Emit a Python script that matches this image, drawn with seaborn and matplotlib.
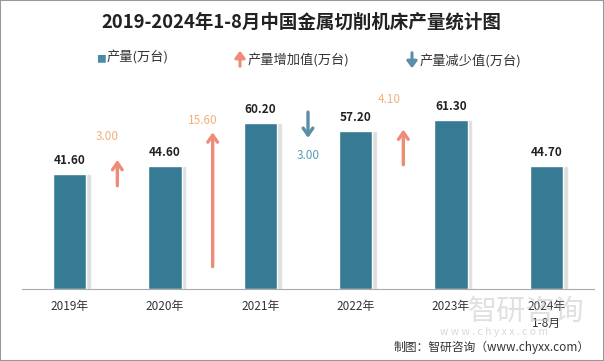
import matplotlib
matplotlib.use('Agg')
import matplotlib.pyplot as plt
import seaborn as sns
import pandas as pd
from matplotlib.patches import Rectangle, FancyArrowPatch

# 数据
years = ['2019年', '2020年', '2021年', '2022年', '2023年', '2024年\n1-8月']
output = [41.6, 44.6, 60.2, 57.2, 61.3, 44.7]
# 增减值（位于相邻年份之间）
deltas = [3.0, 15.6, -3.0, 4.1]
delta_pos = [0.5, 1.5, 2.5, 3.5]
arrow_base = [37.4, 8.1, 64.1, 45.0]
ARROW_SCALE = 3.12

BAR_COLOR = '#367a93'
UP_COLOR = '#ee8c78'
DOWN_COLOR = '#5b8fa8'
UP_TEXT = '#f4b07c'
DOWN_TEXT = '#5a9cb8'

sns.set_style('white')
plt.rcParams['font.family'] = ['Noto Sans CJK SC', 'DejaVu Sans']

df = pd.DataFrame({'year': years, 'output': output})

fig = plt.figure(figsize=(6.04, 3.61), dpi=100)
ax = fig.add_axes([22 / 604, 1 - 289 / 361, 572 / 604, 220.8 / 361])

# 柱子阴影
ax.bar([i + 0.05 for i in range(len(years))], output, width=0.35,
       color='#c8c8c8', alpha=0.6, zorder=1)
sns.barplot(data=df, x='year', y='output', color=BAR_COLOR, saturation=1,
            width=0.35, edgecolor='white', linewidth=1, ax=ax, zorder=2)

for i, v in enumerate(output):
    ax.annotate(f'{v:.2f}', (i, v), xytext=(0, 5), textcoords='offset points',
                ha='center', va='bottom', fontsize=8.5, fontweight='bold',
                color='#222222')

# 增减箭头
label_off = [(-7, 12), (-7, 4), (0, -8), (-10, 17)]
for x, d, b, off in zip(delta_pos, deltas, arrow_base, label_off):
    end = b + d * ARROW_SCALE
    c = UP_COLOR if d > 0 else DOWN_COLOR
    ax.annotate('', xy=(x, end), xytext=(x, b),
                arrowprops=dict(arrowstyle='->,head_length=0.5,head_width=0.35',
                                color=c, lw=2.4, shrinkA=0, shrinkB=0))
    ax.annotate(f'{abs(d):.2f}', (x, end), xytext=off, textcoords='offset points',
                ha='center', va='bottom' if d > 0 else 'top', fontsize=8.5,
                color=UP_TEXT if d > 0 else DOWN_TEXT)

ax.set_xlim(-0.5, 5.5)
ax.set_ylim(0, 80)
ax.set_xlabel('')
ax.set_ylabel('')
ax.set_yticks([])
for s in ['left', 'right', 'top']:
    ax.spines[s].set_visible(False)
ax.spines['bottom'].set_color('#aaaaaa')
ax.set_xticks([i - 0.5 for i in range(7)], minor=True)
ax.tick_params(axis='x', which='minor', length=5, color='#aaaaaa', width=0.8)
ax.tick_params(axis='x', which='major', length=0, labelsize=8.5,
               labelcolor='#333333', pad=8)
for t in ax.get_xticklabels():
    t.set_linespacing(1.35)

# 标题
fig.text(301 / 604, 1 - 22 / 361, '2019-2024年1-8月中国金属切削机床产量统计图',
         ha='center', va='center', fontsize=13.3, fontweight='bold',
         color='#222222')

# 图例
fig.text(96 / 604, 1 - 59 / 361, '■', ha='left', va='center', fontsize=7,
         color='#4a8ca6')
fig.text(107 / 604, 1 - 58 / 361, '产量(万台)', ha='left', va='center',
         fontsize=9.5, color='#333333')
fig.patches.append(FancyArrowPatch(
    (240 / 604, 1 - 69 / 361), (240 / 604, 1 - 48 / 361),
    transform=fig.transFigure, arrowstyle='-|>,head_length=4,head_width=3',
    color=UP_COLOR, lw=2.2))
fig.text(248 / 604, 1 - 61 / 361, '产量增加值(万台)', ha='left', va='center',
         fontsize=9.5, color='#333333')
fig.patches.append(FancyArrowPatch(
    (412 / 604, 1 - 50 / 361), (412 / 604, 1 - 71 / 361),
    transform=fig.transFigure, arrowstyle='-|>,head_length=4,head_width=3',
    color=DOWN_COLOR, lw=2.2))
fig.text(420 / 604, 1 - 62 / 361, '产量减少值(万台)', ha='left', va='center',
         fontsize=9.5, color='#333333')

# 水印
fig.text(468 / 604, 1 - 312 / 361, '智研咨询', ha='left', va='center',
         fontsize=21, color='#c8c8c8', alpha=0.55)
fig.text(440 / 604, 1 - 332 / 361, 'w w w . c h y x x . c o m', ha='left',
         va='center', fontsize=7.5, color='#c8c8c8', alpha=0.7)

# 来源
fig.text(590 / 604, 1 - 347 / 361, '制图：智研咨询（www.chyxx.com）', ha='right',
         va='center', fontsize=8.5, color='#333333')

# 外边框
fig.patches.append(Rectangle((0, 0), 1, 1, transform=fig.transFigure,
                             fill=False, edgecolor='#999999', lw=1.5))

fig.savefig('out.png', dpi=100)
